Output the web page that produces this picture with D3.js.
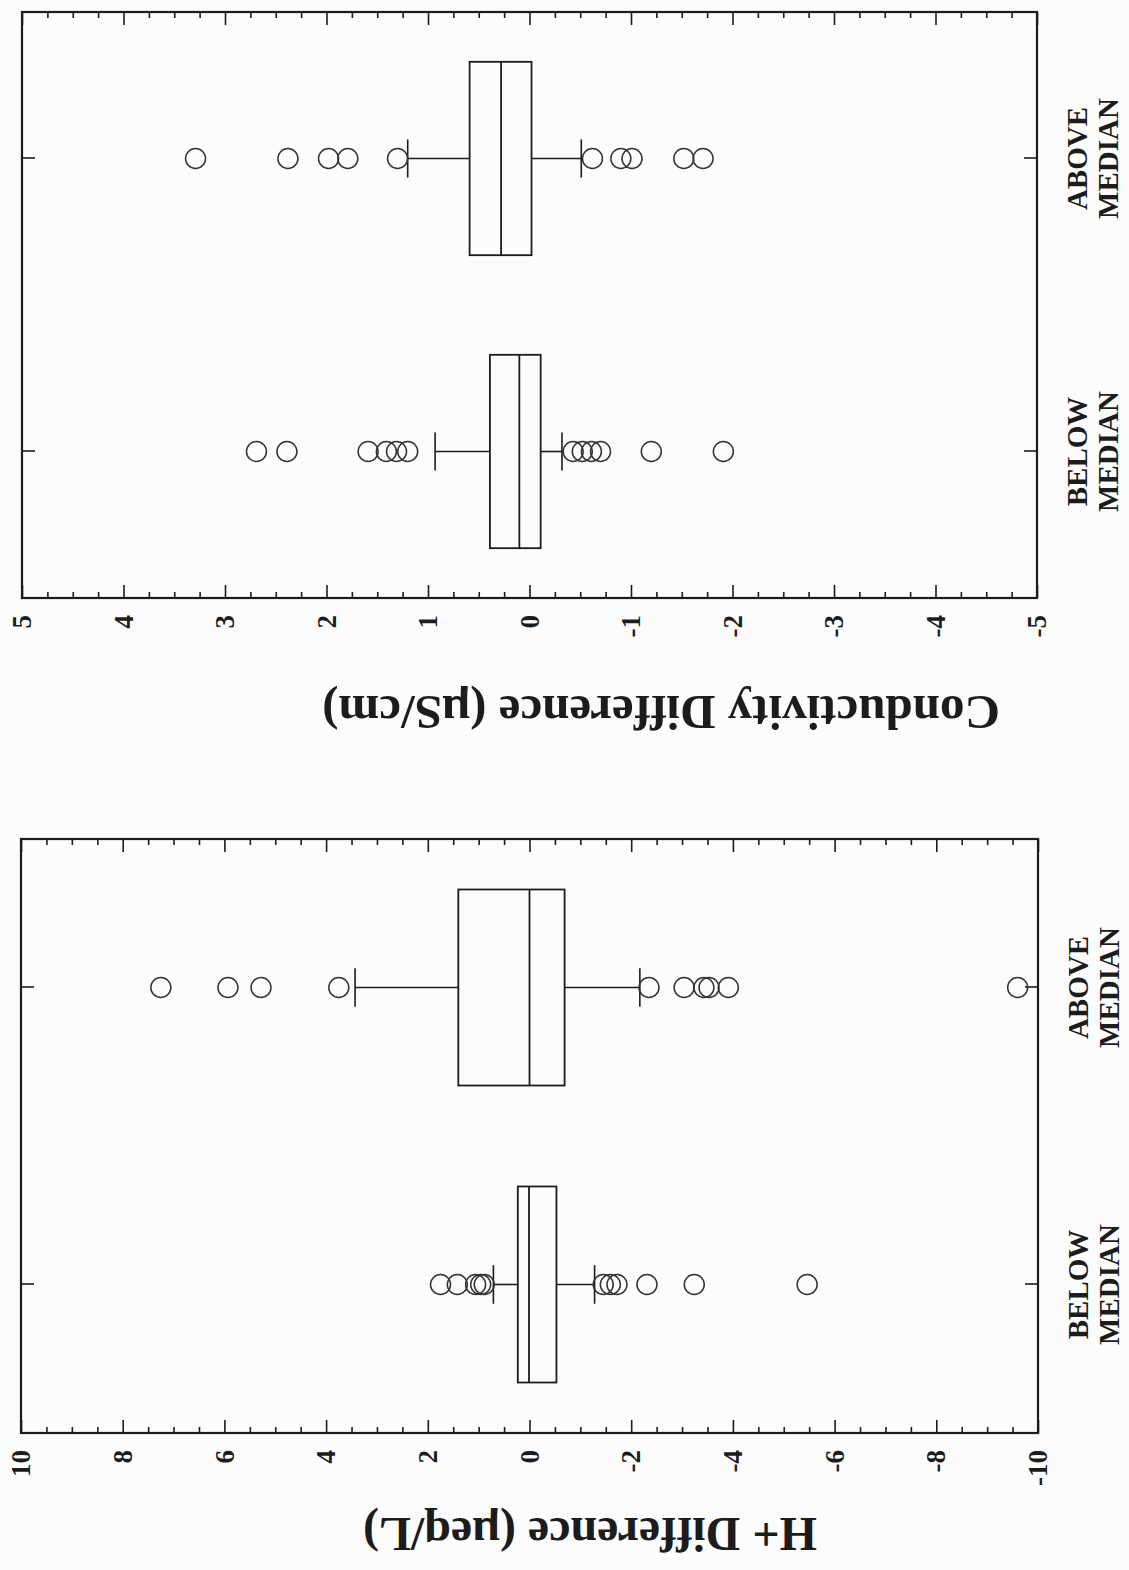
<!DOCTYPE html>
<html><head><meta charset="utf-8">
<script src="https://cdn.jsdelivr.net/npm/d3@7"></script>
<style>body{margin:0;background:#fcfcfc} svg{display:block}</style>
</head><body><svg id="c" width="1129" height="1570"></svg>
<script>
// ---------- data ----------
const categories = ["BELOW MEDIAN", "ABOVE MEDIAN"];

// H+ Difference (µeq/L)
const hTicks = [10, 8, 6, 4, 2, 0, -2, -4, -6, -8, -10];
const hQ1 = [-0.53, -0.69];
const hMedian = [0.01, 0.0];
const hQ3 = [0.23, 1.40];
const hWhiskerLow = [-1.28, -2.17];
const hWhiskerHigh = [0.71, 3.43];
const hOutliersBelow = [1.75, 1.42, 1.06, 0.96, 0.89, -1.45, -1.59, -1.72, -2.31, -3.24, -5.46];
const hOutliersAbove = [7.25, 5.93, 5.28, 3.75, -2.35, -3.04, -3.43, -3.53, -3.91, -9.6];

// Conductivity Difference (µS/cm)
const cTicks = [5, 4, 3, 2, 1, 0, -1, -2, -3, -4, -5];
const cQ1 = [-0.11, -0.02];
const cMedian = [0.10, 0.28];
const cQ3 = [0.39, 0.59];
const cWhiskerLow = [-0.32, -0.51];
const cWhiskerHigh = [0.93, 1.20];
const cOutliersBelow = [2.69, 2.39, 1.59, 1.41, 1.31, 1.20, -0.43, -0.52, -0.61, -0.70, -1.20, -1.91];
const cOutliersAbove = [3.29, 2.38, 1.98, 1.79, 1.30, -0.62, -0.90, -1.01, -1.52, -1.71];

// ---------- drawing ----------
const INK = "#1c1c1c";
const FONT = "'Liberation Serif','Times New Roman',serif";
const svg = d3.select("#c");
svg.append("rect").attr("width", 1129).attr("height", 1570).attr("fill", "#fcfcfc");
// the whole figure is printed rotated a quarter turn counter-clockwise
const root = svg.append("g").attr("transform", "translate(0,1570) rotate(-90)");

function panel(cfg) {
  const g = root.append("g");
  const x = d3.scalePoint().domain(categories).range([cfg.x0, cfg.x1]).padding(0.5);
  const y = d3.scaleLinear().domain(cfg.domain).range([cfg.yBottom, cfg.yTop]);
  const minors = d3.range(cfg.domain[0], cfg.domain[1] + 1e-9, cfg.minorStep)
    .filter(v => Math.abs(v / cfg.majorStep - Math.round(v / cfg.majorStep)) > 1e-6);

  const styleAxis = sel => { sel.select(".domain").remove(); sel.selectAll("line").attr("stroke", INK).attr("stroke-width", 1.6); };

  g.append("g").attr("transform", `translate(${cfg.x0},0)`)
    .call(d3.axisLeft(y).tickValues(cfg.ticks).tickSize(-13).tickPadding(17).tickFormat(d => String(d)))
    .call(styleAxis)
    .selectAll("text").attr("font-family", FONT).attr("font-weight", "bold").attr("font-size", 27).attr("fill", INK);
  g.append("g").attr("transform", `translate(${cfg.x0},0)`)
    .call(d3.axisLeft(y).tickValues(minors).tickSize(-6).tickFormat("")).call(styleAxis);
  g.append("g").attr("transform", `translate(${cfg.x1},0)`)
    .call(d3.axisRight(y).tickValues(cfg.ticks).tickSize(-13).tickFormat("")).call(styleAxis);
  g.append("g").attr("transform", `translate(${cfg.x1},0)`)
    .call(d3.axisRight(y).tickValues(minors).tickSize(-6).tickFormat("")).call(styleAxis);
  g.append("g").attr("transform", `translate(0,${cfg.yBottom})`)
    .call(d3.axisBottom(x).tickSize(-13).tickFormat("")).call(styleAxis);
  g.append("g").attr("transform", `translate(0,${cfg.yTop})`)
    .call(d3.axisTop(x).tickSize(-13).tickFormat("")).call(styleAxis);

  // frame
  g.append("rect").attr("x", cfg.x0).attr("y", cfg.yTop)
    .attr("width", cfg.x1 - cfg.x0).attr("height", cfg.yBottom - cfg.yTop)
    .attr("fill", "none").attr("stroke", INK).attr("stroke-width", 2.2);

  // category labels (two lines)
  categories.forEach(c => {
    const t = g.append("text").attr("x", x(c)).attr("y", cfg.yBottom + 50)
      .attr("text-anchor", "middle").attr("font-family", FONT).attr("font-weight", "bold")
      .attr("font-size", 29).attr("fill", INK);
    c.split(" ").forEach((w, i) => t.append("tspan").attr("x", x(c)).attr("dy", i ? 31 : 0).text(w));
  });

  // boxes
  const bw = x.step() * 0.66, cap = x.step() * 0.13;
  categories.forEach((c, i) => {
    const cx = x(c);
    const bg = g.append("g").attr("stroke", INK).attr("stroke-width", 1.6).attr("fill", "none");
    bg.append("line").attr("x1", cx).attr("x2", cx).attr("y1", y(cfg.q3[i])).attr("y2", y(cfg.hi[i]));
    bg.append("line").attr("x1", cx).attr("x2", cx).attr("y1", y(cfg.q1[i])).attr("y2", y(cfg.lo[i]));
    bg.append("line").attr("x1", cx - cap / 2).attr("x2", cx + cap / 2).attr("y1", y(cfg.hi[i])).attr("y2", y(cfg.hi[i]));
    bg.append("line").attr("x1", cx - cap / 2).attr("x2", cx + cap / 2).attr("y1", y(cfg.lo[i])).attr("y2", y(cfg.lo[i]));
    bg.append("rect").attr("x", cx - bw / 2).attr("width", bw)
      .attr("y", y(cfg.q3[i])).attr("height", y(cfg.q1[i]) - y(cfg.q3[i])).attr("stroke-width", 1.8);
    bg.append("line").attr("x1", cx - bw / 2).attr("x2", cx + bw / 2).attr("y1", y(cfg.med[i])).attr("y2", y(cfg.med[i])).attr("stroke-width", 1.8);
    g.append("g").selectAll("circle").data(cfg.out[i]).join("circle")
      .attr("cx", cx).attr("cy", d => y(d)).attr("r", 10)
      .attr("fill", "none").attr("stroke", "#333").attr("stroke-width", 1.5);
  });

  // axis title
  g.append("text").attr("transform", `translate(${cfg.titleX},${cfg.titleY}) rotate(-90)`)
    .attr("text-anchor", "start").attr("font-family", FONT).attr("font-weight", "bold")
    .attr("font-size", cfg.titleSize).attr("fill", INK).text(cfg.title);
}

panel({
  x0: 137, x1: 731, yTop: 21, yBottom: 1038, domain: [-10, 10], majorStep: 2, minorStep: 0.5,
  ticks: hTicks, q1: hQ1, med: hMedian, q3: hQ3, lo: hWhiskerLow, hi: hWhiskerHigh,
  out: [hOutliersBelow, hOutliersAbove],
  title: "H+ Difference (µeq/L)", titleX: 52, titleY: 817, titleSize: 48
});
panel({
  x0: 972, x1: 1558, yTop: 22, yBottom: 1037, domain: [-5, 5], majorStep: 1, minorStep: 0.25,
  ticks: cTicks, q1: cQ1, med: cMedian, q3: cQ3, lo: cWhiskerLow, hi: cWhiskerHigh,
  out: [cOutliersBelow, cOutliersAbove],
  title: "Conductivity Difference (µS/cm)", titleX: 874, titleY: 1000, titleSize: 49
});
</script></body></html>
